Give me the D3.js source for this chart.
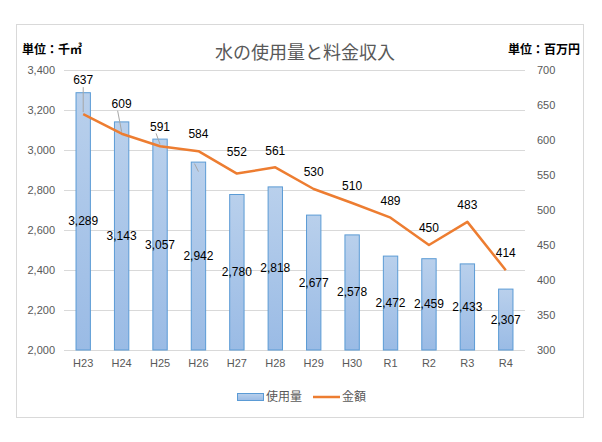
<!DOCTYPE html>
<html><head><meta charset="utf-8">
<script src="https://cdn.jsdelivr.net/npm/d3@7"></script>
<style>body{margin:0;background:#fff}svg{display:block}</style>
</head><body><svg id="c" width="602" height="442"></svg>
<script>
const categories = ["H23","H24","H25","H26","H27","H28","H29","H30","R1","R2","R3","R4"];
const usage = [3289,3143,3057,2942,2780,2818,2677,2578,2472,2459,2433,2307];
const revenue = [637,609,591,584,552,561,530,510,489,450,483,414];
const leftTicks = [2000,2200,2400,2600,2800,3000,3200,3400];
const rightTicks = [300,350,400,450,500,550,600,650,700];

const svg = d3.select("#c");
const numFont = "'Liberation Sans', Arial, sans-serif";
const jpFont = "'Noto Sans CJK JP', sans-serif";

svg.append("rect").attr("x",16.5).attr("y",24.5).attr("width",567).attr("height",393)
  .attr("fill","#fff").attr("stroke","#d9d9d9");

const defs = svg.append("defs");
const g = defs.append("linearGradient").attr("id","bg").attr("x1",0).attr("y1",0).attr("x2",0).attr("y2",1);
g.append("stop").attr("offset","0%").attr("stop-color","#b9d0ec");
g.append("stop").attr("offset","100%").attr("stop-color","#9abbe5");

const x = d3.scaleBand().domain(categories).range([64,525]).paddingInner(0.6).paddingOuter(0.3);
const yL = d3.scaleLinear().domain([2000,3400]).range([350,70]);
const yR = d3.scaleLinear().domain([300,700]).range([350,70]);

// gridlines
svg.append("g").selectAll("line").data(leftTicks).join("line")
  .attr("x1",64).attr("x2",525).attr("y1",d=>yL(d)+0.5).attr("y2",d=>yL(d)+0.5)
  .attr("stroke","#d9d9d9");

// axes
const axL = svg.append("g").attr("transform","translate(64,0)")
  .call(d3.axisLeft(yL).tickValues(leftTicks).tickFormat(d3.format(",")).tickSize(0).tickPadding(9));
const axR = svg.append("g").attr("transform","translate(525,0)")
  .call(d3.axisRight(yR).tickValues(rightTicks).tickSize(0).tickPadding(12));
const axB = svg.append("g").attr("transform","translate(0,350)")
  .call(d3.axisBottom(x).tickSize(0).tickPadding(9));
[axL,axR,axB].forEach(a=>{a.select(".domain").remove();
  a.selectAll("text").attr("font-family",numFont).attr("font-size",11).attr("fill","#595959");});
axB.select(".domain").remove();
svg.append("line").attr("x1",64).attr("x2",525).attr("y1",350.5).attr("y2",350.5).attr("stroke","#d9d9d9");

// bars
svg.append("g").selectAll("rect").data(usage).join("rect")
  .attr("x",(d,i)=>x(categories[i])+0.5).attr("width",x.bandwidth()-1)
  .attr("y",d=>yL(d)+0.5).attr("height",d=>yL(2000)-yL(d)-0.5)
  .attr("fill","url(#bg)").attr("stroke","#5b9bd5").attr("stroke-width",1);

// bar labels
svg.append("g").selectAll("text").data(usage).join("text")
  .attr("x",(d,i)=>x(categories[i])+x.bandwidth()/2)
  .attr("y",d=>(yL(d)+yL(2000))/2)
  .attr("dy","0.35em").attr("text-anchor","middle")
  .attr("font-family",numFont).attr("font-size",12).attr("fill","#000")
  .text(d=>d3.format(",")(d));

// line
const cx = i => x(categories[i])+x.bandwidth()/2;
svg.append("path").datum(revenue)
  .attr("d",d3.line().x((d,i)=>cx(i)).y(d=>yR(d)))
  .attr("fill","none").attr("stroke","#ed7d31").attr("stroke-width",2.5).attr("stroke-linejoin","round");

// line labels (first points pushed up with leader lines as in reference)
const lift = (i) => i===0?34 : i===1?30 : i===4?22 : i===2?20 : 17;
svg.append("g").selectAll("line").data(revenue).join("line")
  .filter((d,i)=>lift(i)>18)
  .attr("x1",(d,i)=>cx(i)).attr("x2",(d,i)=>cx(i)+(i===0?0:-4))
  .attr("y1",(d,i)=>yR(d)-2).attr("y2",(d,i)=>yR(d)-lift(i)+7)
  .attr("stroke","#a6a6a6").attr("stroke-width",1);
svg.append("g").selectAll("text").data(revenue).join("text")
  .attr("x",(d,i)=>cx(i)).attr("y",(d,i)=>yR(d)-lift(i))
  .attr("dy","0.35em").attr("text-anchor","middle")
  .attr("font-family",numFont).attr("font-size",12).attr("fill","#000")
  .text(d=>d);

// titles
svg.append("text").attr("x",305).attr("y",59).attr("text-anchor","middle")
  .attr("font-family",jpFont).attr("font-size",18).attr("fill","#595959").text("水の使用量と料金収入");
svg.append("text").attr("x",22).attr("y",54)
  .attr("font-family",jpFont).attr("font-size",12).attr("font-weight","bold").attr("fill","#000").text("単位：千㎥");
svg.append("text").attr("x",580).attr("y",54).attr("text-anchor","end")
  .attr("font-family",jpFont).attr("font-size",12).attr("font-weight","bold").attr("fill","#000").text("単位：百万円");

// legend
const lg = svg.append("g");
lg.append("rect").attr("x",237.5).attr("y",393.5).attr("width",26).attr("height",7)
  .attr("fill","url(#bg)").attr("stroke","#5b9bd5");
lg.append("text").attr("x",266).attr("y",397).attr("dy","0.35em")
  .attr("font-family",jpFont).attr("font-size",12).attr("fill","#595959").text("使用量");
lg.append("line").attr("x1",313).attr("x2",340).attr("y1",397).attr("y2",397)
  .attr("stroke","#ed7d31").attr("stroke-width",2.5);
lg.append("text").attr("x",342).attr("y",397).attr("dy","0.35em")
  .attr("font-family",jpFont).attr("font-size",12).attr("fill","#595959").text("金額");
</script></body></html>
